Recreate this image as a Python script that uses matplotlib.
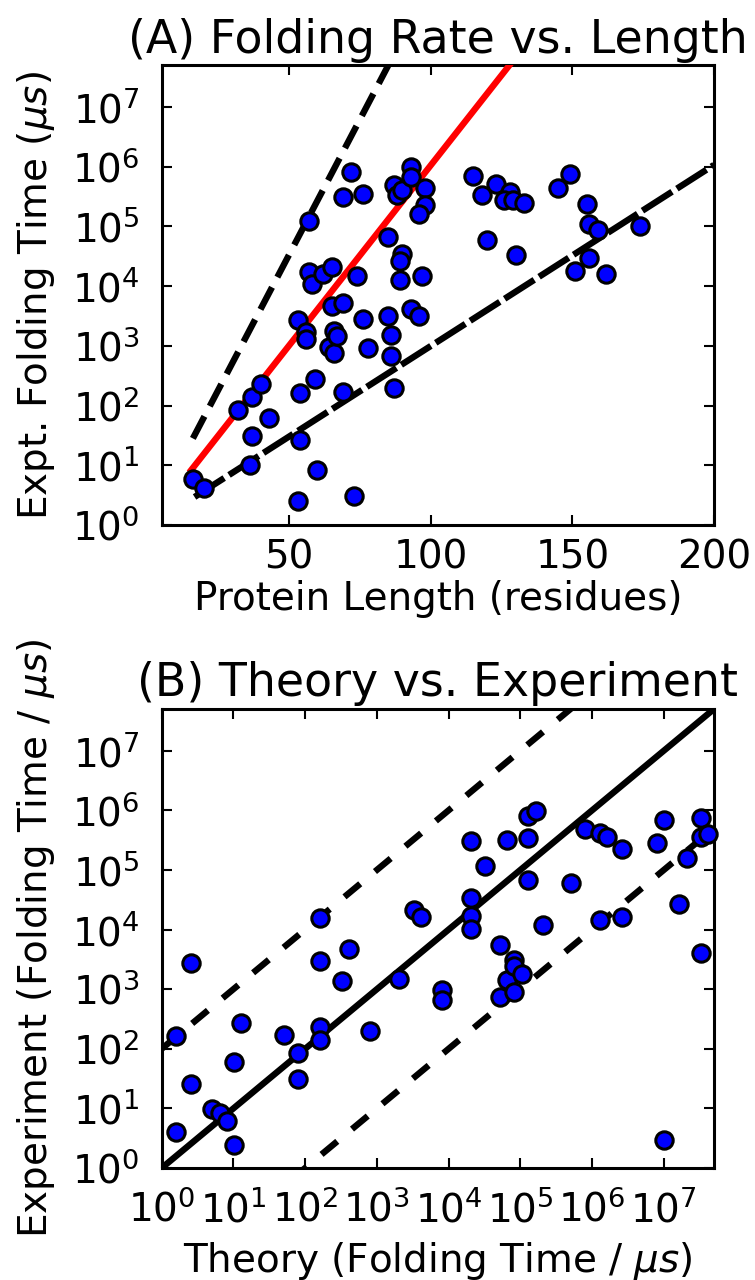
import matplotlib
matplotlib.use('Agg')
import matplotlib.pyplot as plt
import numpy as np

# panel A: protein length vs experimental folding time
length_a = [16, 20, 32, 37, 40, 37, 43, 36, 53, 54,
            54, 59, 60, 73, 69, 53, 56, 56, 64, 66,
            66, 67, 65, 69, 76, 78, 85, 86, 86, 87,
            93, 96, 57, 58, 62, 65, 74, 85, 90, 89,
            89, 97, 57, 72, 69, 76, 87, 88, 90, 93,
            93, 98, 98, 96, 115, 118, 123, 128, 126, 129,
            133, 120, 130, 149, 145, 155, 156, 159, 156, 151,
            162, 174]
time_a = [6.0, 4.1, 84, 141, 229, 31, 61, 10, 2.5, 27,
          164, 277, 8.3, 3.1, 170, 2700, 1700, 1320, 960, 745,
          1800, 1450, 4700, 5300, 2760, 905, 3100, 1500, 680, 200,
          4200, 3100, 17000, 10700, 16000, 20500, 14800, 67000, 34000, 26000,
          12600, 15000, 122000, 820000, 310000, 345000, 490000, 340000, 400000, 1000000,
          670000, 430000, 230000, 160000, 690000, 330000, 520000, 380000, 275000, 280000,
          250000, 60000, 33000, 740000, 430000, 240000, 109000, 87000, 29700, 18000,
          16000, 100000]

# lines in panel A: log10(t) = a + b*(L - L0), drawn from L0
fit_red = (15.4, 0.92, 0.0603)
bound_upper = (16.0, 1.45, 0.0905)
bound_lower = (16.6, 0.47, 0.0303)

# panel B: theory vs experiment
theory_b = [1.6, 1.6, 2.6, 2.6, 5.0, 6.5, 8.1, 10.2, 10.2, 12.9,
            50, 79, 79, 162, 162, 162, 162, 407, 324, 794,
            2000, 3240, 4070, 8130, 8130, 20400, 20400, 20400, 20400, 32400,
            51300, 64600, 64600, 51300, 81300, 81300, 81300, 105000, 129000, 166000,
            129000, 129000, 209000, 513000, 794000, 1290000, 1620000, 2570000, 1290000, 2570000,
            8130000, 10200000, 20900000, 16200000, 10200000, 33100000, 33100000, 41700000, 33100000]
expt_b = [161, 4.0, 2700, 26, 9.8, 8.4, 6.1, 60, 2.4, 270,
          167, 85, 31, 230, 141, 15500, 2960, 4700, 1350, 200,
          1500, 21000, 16000, 950, 660, 300000, 34000, 17000, 10200, 118000,
          5400, 320000, 1400, 725, 3100, 2400, 910, 1800, 810000, 980000,
          340000, 68000, 12000, 60000, 480000, 410000, 360000, 220000, 14500, 16500,
          280000, 690000, 160000, 27000, 2.9, 740000, 350000, 400000, 4100]

plt.rcParams['font.family'] = ['DejaVu Sans']
plt.rcParams['mathtext.fontset'] = 'dejavusans'
plt.rcParams['axes.linewidth'] = 2.2
for ax_name in ['xtick', 'ytick']:
    plt.rcParams[ax_name + '.direction'] = 'in'
    plt.rcParams[ax_name + '.major.size'] = 7
    plt.rcParams[ax_name + '.minor.size'] = 3.5
    plt.rcParams[ax_name + '.major.width'] = 1.5
    plt.rcParams[ax_name + '.minor.width'] = 1.5
    plt.rcParams[ax_name + '.labelsize'] = 28
plt.rcParams['xtick.major.pad'] = 10
plt.rcParams['ytick.major.pad'] = 16
plt.rcParams['xtick.top'] = True
plt.rcParams['ytick.right'] = True

fs_label = 28
fs_title = 33
lw = 4.6
fig = plt.figure(figsize=(7.55, 12.8), dpi=100, facecolor='white')

def style_points(ax, x, y):
    ax.plot(x, y, 'o', color='blue', markersize=12.5, markeredgecolor='black',
            markeredgewidth=2.2, zorder=5, clip_on=False)

# ---- panel A
ax1 = fig.add_axes([0.2142, 0.5898, 0.7315, 0.3594])
ax1.set_yscale('log')
for (l0, a, b), col, ls in [(bound_upper, 'black', (0, (3.9, 1.8))),
                           (fit_red, 'red', '-'),
                           (bound_lower, 'black', (0, (5.5, 0.9)))]:
    xx = np.linspace(l0, 200, 200)
    ax1.plot(xx, 10 ** (a + b * (xx - l0)), color=col, lw=lw, linestyle=ls, zorder=3)
style_points(ax1, length_a, time_a)
ax1.set_xlim(5, 200)
ax1.set_ylim(1, 5e7)
ax1.set_xticks([50, 100, 150, 200])
ax1.set_yticks([10.0 ** k for k in range(8)])
ax1.set_xlabel('Protein Length (residues)', fontsize=fs_label, labelpad=2)
ax1.set_ylabel(r'Expt. Folding Time ($\mu s$)', fontsize=fs_label)
ax1.yaxis.set_label_coords(-0.19, 0.5)
ax1.set_title('(A) Folding Rate vs. Length', fontsize=fs_title, pad=9)

# ---- panel B
ax2 = fig.add_axes([0.2142, 0.0875, 0.7315, 0.3586])
ax2.set_xscale('log')
ax2.set_yscale('log')
xx = np.logspace(0, 8, 50)
ax2.plot(xx, xx, color='black', lw=lw, zorder=3)
ax2.plot(xx, xx * 100, color='black', lw=lw, linestyle=(0, (3.2, 3.0)), zorder=3)
ax2.plot(xx, xx / 100, color='black', lw=lw, linestyle=(0, (3.2, 3.0)), zorder=3)
style_points(ax2, theory_b, expt_b)
ax2.set_xlim(1, 5e7)
ax2.set_ylim(1, 5e7)
ax2.set_xticks([10.0 ** k for k in range(8)])
ax2.set_yticks([10.0 ** k for k in range(8)])
ax2.tick_params(axis='x', which='major', pad=16)
ax2.set_xlabel(r'Theory (Folding Time / $\mu s$)', fontsize=fs_label, labelpad=7)
ax2.set_ylabel(r'Experiment (Folding Time / $\mu s$)', fontsize=fs_label)
ax2.yaxis.set_label_coords(-0.19, 0.5)
ax2.set_title('(B) Theory vs. Experiment', fontsize=fs_title, pad=9)

fig.savefig('out.png', dpi=100, facecolor='white')
